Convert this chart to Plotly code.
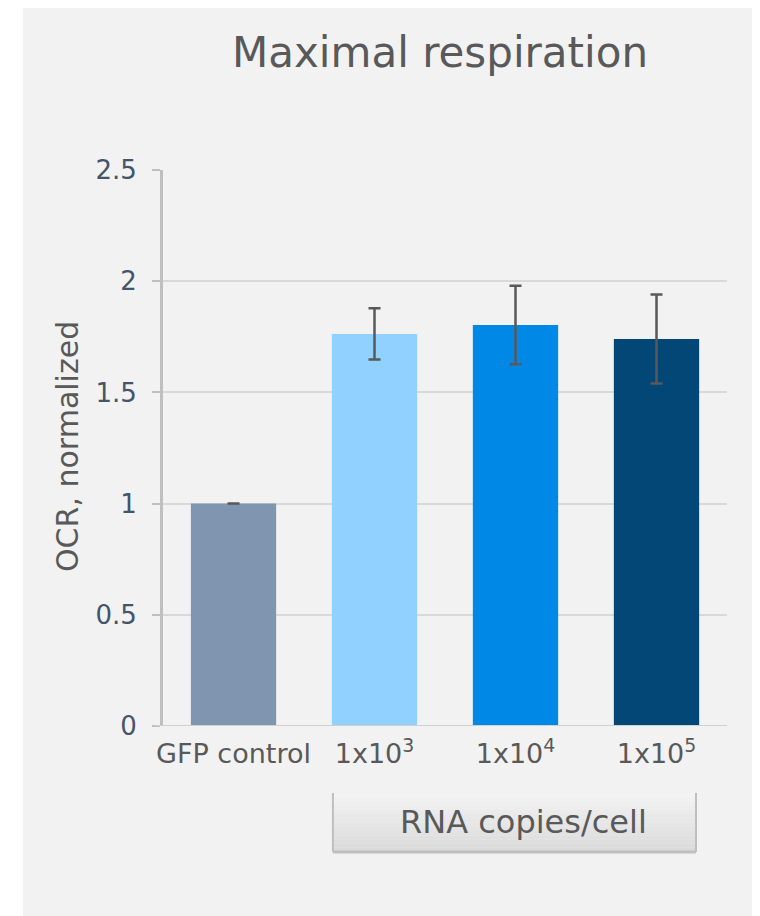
import plotly.graph_objects as go

categories = ["GFP control", "1x10<sup>3</sup>", "1x10<sup>4</sup>", "1x10<sup>5</sup>"]
values = [1.0, 1.763, 1.803, 1.74]
errors = [0.0, 0.115, 0.176, 0.2]
colors = ["#8096b0", "#90d1ff", "#0088e6", "#024775"]
y_ticks = [0, 0.5, 1, 1.5, 2, 2.5]
y_tick_labels = ["0", "0.5", "1", "1.5", "2", "2.5"]
title_text = "Maximal respiration"
y_title = "OCR, normalized"
group_label = "RNA copies/cell"

# page body has an 8px margin; the figure starts at page (8, 8)
OFF = 8
PAGE_W, PAGE_H = 760, 916
W, H = PAGE_W - OFF, PAGE_H - OFF
# plot area in page pixels
PX0, PX1, PY0, PY1 = 163, 727, 170, 726
L, R, T, B = PX0 - OFF, PAGE_W - PX1, PY0 - OFF, PAGE_H - PY1
pw, ph = PX1 - PX0, PY1 - PY0

def px2x(px):
    return (px - PX0) / pw

def px2y(py):
    return (PY1 - py) / ph

FONT = "DejaVu Sans"

fig = go.Figure()
fig.add_trace(go.Bar(
    x=list(range(len(categories))), y=values,
    marker=dict(color=colors, line=dict(width=0)),
    error_y=dict(type="data", array=errors, visible=True, color="#595959",
                 thickness=2.5, width=6),
    width=0.605,
))

shapes = []
# white strip on the left of the panel
shapes.append(dict(type="rect", xref="paper", yref="paper", x0=px2x(3), x1=px2x(23),
                   y0=px2y(PAGE_H + 5), y1=px2y(0), fillcolor="white", line=dict(width=0), layer="below"))
# white strip on the right
shapes.append(dict(type="rect", xref="paper", yref="paper", x0=px2x(753), x1=px2x(PAGE_W + 5),
                   y0=px2y(PAGE_H + 5), y1=px2y(0), fillcolor="white", line=dict(width=0), layer="below"))

# gradient group box
bx0, bx1 = 0.705, 3.28
by_top, by_bot = 793, 852
n = 14
c0 = (0xf3, 0xf3, 0xf3)
c1 = (0xda, 0xda, 0xda)
for i in range(n):
    t = i / (n - 1)
    c = tuple(int(round(c0[k] + (c1[k] - c0[k]) * t)) for k in range(3))
    ya = by_top + (by_bot - by_top) * i / n
    yb = by_top + (by_bot - by_top) * (i + 1) / n
    shapes.append(dict(type="rect", xref="x", yref="paper", x0=bx0, x1=bx1,
                       y0=px2y(yb), y1=px2y(ya),
                       fillcolor="rgb(%d,%d,%d)" % c, line=dict(width=0)))
shapes.append(dict(type="line", xref="x", yref="paper", x0=bx0, x1=bx0,
                   y0=px2y(by_bot), y1=px2y(by_top), line=dict(color="#bfbfbf", width=2)))
shapes.append(dict(type="line", xref="x", yref="paper", x0=bx1, x1=bx1,
                   y0=px2y(by_bot), y1=px2y(by_top), line=dict(color="#bfbfbf", width=2)))
shapes.append(dict(type="line", xref="x", yref="paper", x0=bx0, x1=bx1,
                   y0=px2y(by_bot), y1=px2y(by_bot), line=dict(color="#bfbfbf", width=3)))
# x baseline
shapes.append(dict(type="line", xref="paper", yref="y", x0=px2x(155), x1=1,
                   y0=0, y1=0, line=dict(color="#d0d0d0", width=2)))

annotations = [
    dict(text=title_text, xref="paper", yref="paper", x=px2x(440), y=px2y(52),
         showarrow=False, font=dict(family=FONT, size=42, color="#595959"),
         xanchor="center", yanchor="middle"),
    dict(text=y_title, xref="paper", yref="paper", x=px2x(67), y=px2y(447),
         showarrow=False, textangle=-90, font=dict(family=FONT, size=30, color="#595959"),
         xanchor="center", yanchor="middle"),
    dict(text=group_label, xref="paper", yref="paper", x=px2x(523), y=px2y(822),
         showarrow=False, font=dict(family=FONT, size=32, color="#595959"),
         xanchor="center", yanchor="middle"),
]

fig.update_layout(
    width=W, height=H,
    margin=dict(l=L, r=R, t=T, b=B, pad=0),
    paper_bgcolor="#f2f2f2", plot_bgcolor="#f2f2f2",
    showlegend=False,
    shapes=shapes, annotations=annotations,
    bargap=0.395,
    xaxis=dict(
        tickmode="array", tickvals=list(range(len(categories))), ticktext=categories,
        range=[-0.5, len(categories) - 0.5],
        showgrid=False, zeroline=False, showline=False, ticks="",
        tickfont=dict(family=FONT, size=27, color="#595959"),
        ticklabelstandoff=9,
    ),
    yaxis=dict(
        range=[0, 2.5], tickmode="array", tickvals=y_ticks, ticktext=y_tick_labels,
        showgrid=True, gridcolor="#d9d9d9", gridwidth=2,
        zeroline=False, showline=True, linecolor="#bfbfbf", linewidth=3,
        ticks="outside", ticklen=8, tickcolor="#bfbfbf", tickwidth=2,
        tickfont=dict(family=FONT, size=26, color="#44546a"),
        ticklabelstandoff=10,
    ),
)

fig.write_html("out.html")
